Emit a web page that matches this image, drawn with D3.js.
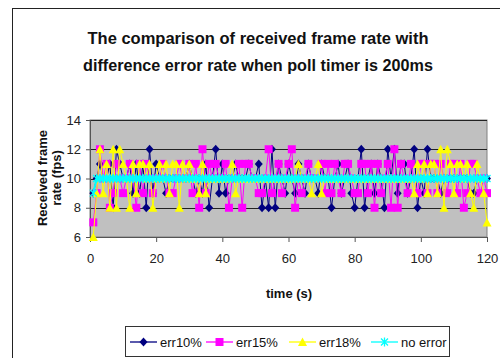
<html>
<head>
<style>
    body { margin: 0; padding: 0; background: white; }
    svg { display: block; }
</style>
<script src="https://cdn.jsdelivr.net/npm/d3@7"></script>
</head>
<body>
<svg width="500" height="358"></svg>
<script>

// time (s), one sample per second
const times = d3.range(1, 121);

const err10 = [
    9, 10, 11, 10, 10, 11, 8, 12, 11, 10,
    10, 11, 9, 11, 9, 11, 8, 12, 9, 11,
    10, 10, 9, 10, 10, 10, 10, 10, 10, 11,
    10, 9, 10, 9, 11, 8, 10, 12, 9, 11,
    9, 10, 10, 11, 10, 10, 10, 11, 10, 10,
    11, 8, 10, 8, 12, 8, 11, 10, 9, 11,
    10, 9, 11, 10, 9, 11, 10, 10, 9, 11,
    10, 10, 8, 10, 11, 9, 10, 11, 9, 8,
    10, 12, 8, 10, 11, 9, 11, 10, 8, 12,
    10, 12, 9, 11, 11, 9, 10, 12, 8, 10,
    9, 12, 10, 10, 10, 9, 10, 10, 10, 10,
    10, 10, 10, 10, 9, 9, 10, 10, 10, 10
];
const err15 = [
    7, 9, 12, 10, 11, 8, 9, 11, 10, 9,
    10, 11, 10, 8, 11, 9, 11, 10, 9, 10,
    10, 11, 10, 9, 9, 10, 11, 10, 10, 11,
    9, 11, 8, 12, 9, 11, 10, 11, 10, 10,
    11, 8, 10, 10, 11, 8, 11, 11, 10, 10,
    9, 9, 10, 12, 9, 10, 11, 9, 10, 11,
    12, 8, 10, 9, 10, 11, 10, 10, 10, 11,
    9, 11, 9, 11, 10, 9, 11, 11, 10, 9,
    9, 11, 11, 9, 11, 8, 11, 9, 10, 11,
    8, 12, 8, 11, 10, 9, 11, 10, 9, 11,
    11, 9, 11, 11, 9, 11, 10, 9, 11, 11,
    9, 11, 8, 9, 11, 11, 10, 9, 10, 9
];
const err18 = [
    6, 9, 12, 9, 11, 8, 12, 8, 12, 11,
    10, 8, 11, 9, 11, 11, 10, 11, 8, 10,
    11, 10, 11, 9, 11, 11, 8, 11, 10, 11,
    10, 10, 9, 11, 9, 10, 10, 10, 10, 10,
    10, 10, 11, 9, 10, 10, 10, 10, 10, 10,
    10, 10, 10, 10, 10, 10, 10, 10, 10, 10,
    10, 10, 11, 10, 10, 10, 9, 10, 11, 9,
    10, 10, 10, 10, 10, 10, 10, 10, 10, 10,
    10, 10, 10, 10, 10, 10, 10, 10, 10, 10,
    10, 10, 10, 10, 10, 10, 10, 9, 11, 10,
    11, 9, 11, 11, 9, 12, 8, 12, 11, 9,
    11, 11, 10, 11, 9, 8, 11, 10, 9, 7
];
const noError = [9].concat(d3.range(119).map(() => 10));

const seriesNames = ["err10%", "err15%", "err18%", "no error"];
const seriesColors = ["#000080", "#ff00ff", "#ffff00", "#00ffff"];
const seriesMarkers = ["diamond", "square", "triangle", "star"];

const xTicks = [0, 20, 40, 60, 80, 100, 120];
const yTicks = [6, 8, 10, 12, 14];

const font = "Arial, 'Liberation Sans', Helvetica, sans-serif";

svg = d3.select("svg");

// outer chart border (runs off the right and bottom of the picture)
svg.append("rect")
    .attr("x", 12.5).attr("y", 8.5)
    .attr("width", 500).attr("height", 360)
    .attr("fill", "white")
    .attr("stroke", "#222").attr("stroke-width", 1);

// title
const titleLines = ["The comparison of received frame rate with",
                    "difference error rate when poll timer is 200ms"];
const titleWidths = [341, 350];
titleLines.forEach(function(t, i) {
    svg.append("text")
        .attr("x", 258).attr("y", 44 + i * 27)
        .attr("text-anchor", "middle")
        .attr("font-family", font)
        .attr("font-weight", "bold")
        .attr("font-size", "17px")
        .attr("textLength", titleWidths[i])
        .attr("lengthAdjust", "spacingAndGlyphs")
        .attr("fill", "#111")
        .text(t);
});

const plot = { left: 90, right: 487, top: 120, bottom: 237 };

let x = d3.scaleLinear().domain([0, 120]).range([plot.left, plot.right]);
let y = d3.scaleLinear().domain([6, 14]).range([plot.bottom, plot.top]);

// plot area
svg.append("rect")
    .attr("x", plot.left).attr("y", plot.top)
    .attr("width", plot.right - plot.left).attr("height", plot.bottom - plot.top)
    .attr("fill", "#c0c0c0")
    .attr("stroke", "#808080").attr("stroke-width", 1);

// gridlines
svg.append("g")
    .selectAll("line")
    .data(yTicks.filter(d => d > 6))
    .join("line")
    .attr("x1", plot.left).attr("x2", plot.right)
    .attr("y1", d => Math.round(y(d)) + 0.5).attr("y2", d => Math.round(y(d)) + 0.5)
    .attr("stroke", "#222").attr("stroke-width", 1);

// axes
let yAxis = svg.append("g")
    .attr("transform", `translate(${plot.left},0)`)
    .call(d3.axisLeft(y).tickValues(yTicks).tickSize(4).tickPadding(5));
let xAxis = svg.append("g")
    .attr("transform", `translate(0,${plot.bottom})`)
    .call(d3.axisBottom(x).tickValues(xTicks).tickSize(5).tickPadding(12));
[xAxis, yAxis].forEach(function(a) {
    a.select(".domain").attr("stroke", "#555");
    a.selectAll(".tick line").attr("stroke", "#555");
    a.selectAll("text")
        .attr("font-family", font)
        .attr("font-size", "13px")
        .attr("fill", "#222");
});

// axis titles
svg.append("text")
    .attr("x", 289).attr("y", 298)
    .attr("text-anchor", "middle")
    .attr("font-family", font).attr("font-weight", "bold").attr("font-size", "13px")
    .attr("fill", "#111")
    .text("time (s)");

let yTitle = svg.append("text")
    .attr("transform", "translate(47,178) rotate(-90)")
    .attr("text-anchor", "middle")
    .attr("font-family", font).attr("font-weight", "bold").attr("font-size", "13px")
    .attr("fill", "#111");
yTitle.append("tspan").attr("x", 0).attr("y", 0).text("Received frame");
yTitle.append("tspan").attr("x", 0).attr("y", 14).text("rate (fps)");

// markers
function markerPath(kind) {
    if (kind == "diamond") return "M0,-4.5L4,0L0,4.5L-4,0Z";
    if (kind == "square") return "M-4,-4H4V4H-4Z";
    if (kind == "triangle") return "M0,-4.5L4.5,4H-4.5Z";
    return "M-3.5,-3.5L3.5,3.5M-3.5,3.5L3.5,-3.5M0,-4.5V4.5";
}

function drawMarker(g, kind, color) {
    if (kind == "star") {
        g.append("path").attr("d", markerPath(kind))
            .attr("fill", "none").attr("stroke", color).attr("stroke-width", 1.3);
    } else {
        g.append("path").attr("d", markerPath(kind)).attr("fill", color);
    }
}

const allSeries = [err10, err15, err18, noError];

let line = d3.line()
    .x((d, i) => x(times[i]))
    .y(d => y(d));

allSeries.forEach(function(values, s) {
    let g = svg.append("g");
    g.append("path")
        .attr("d", line(values))
        .attr("fill", "none")
        .attr("stroke", seriesColors[s])
        .attr("stroke-width", s == 3 ? 2 : 1);
    g.selectAll("g.pt")
        .data(values)
        .join("g")
        .attr("class", "pt")
        .attr("transform", (d, i) => `translate(${x(times[i])},${y(d)})`)
        .each(function() { drawMarker(d3.select(this), seriesMarkers[s], seriesColors[s]); });
});

// legend
svg.append("rect")
    .attr("x", 125.5).attr("y", 326.5)
    .attr("width", 324).attr("height", 30)
    .attr("fill", "white")
    .attr("stroke", "#333").attr("stroke-width", 1);

const legendX = [130, 206, 289, 371];
seriesNames.forEach(function(name, s) {
    let g = svg.append("g").attr("transform", `translate(${legendX[s]},342)`);
    g.append("line")
        .attr("x1", 0).attr("x2", 27)
        .attr("stroke", seriesColors[s]).attr("stroke-width", 1.3);
    let m = g.append("g").attr("transform", "translate(13.5,0)");
    drawMarker(m, seriesMarkers[s], seriesColors[s]);
    g.append("text")
        .attr("x", 30).attr("y", 4.5)
        .attr("font-family", font).attr("font-size", "13px")
        .attr("fill", "#111")
        .text(name);
});

</script>
</body>
</html>
